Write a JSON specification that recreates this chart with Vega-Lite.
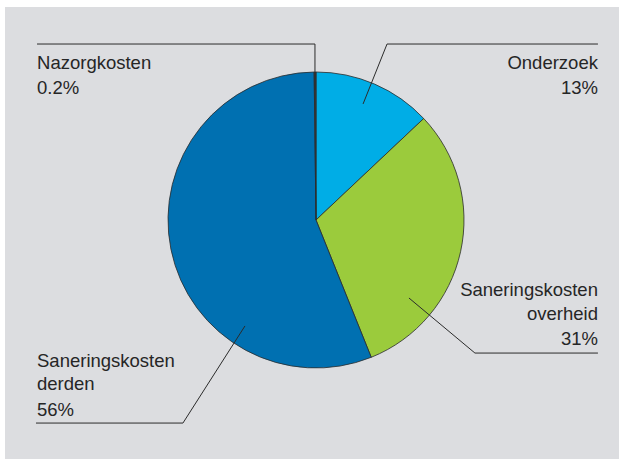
{
  "$schema": "https://vega.github.io/schema/vega-lite/v6.json",
  "width": 614,
  "height": 452,
  "autosize": "none",
  "padding": {"left": 5, "top": 7, "right": 1, "bottom": 0},
  "background": "#ffffff",
  "config": {"view": {"fill": "#dcdde0", "stroke": null}},
  "datasets": {
    "slices": [
      {"category": "Onderzoek", "share": 13, "order": 1},
      {"category": "Saneringskosten overheid", "share": 31, "order": 2},
      {"category": "Saneringskosten derden", "share": 56, "order": 3},
      {"category": "Nazorgkosten", "share": 0.2, "order": 4}
    ],
    "leaders": [
      {"label": "Nazorgkosten", "step": 1, "u": -188.5, "v": 118.9},
      {"label": "Nazorgkosten", "step": 2, "u": -0.7, "v": 118.9},
      {"label": "Nazorgkosten", "step": 3, "u": -0.7, "v": 87.8},
      {"label": "Onderzoek", "step": 1, "u": 190.5, "v": 118.9},
      {"label": "Onderzoek", "step": 2, "u": 48.0, "v": 118.9},
      {"label": "Onderzoek", "step": 3, "u": 31.8, "v": 78.4},
      {"label": "Overheid", "step": 1, "u": 190.5, "v": -89.9},
      {"label": "Overheid", "step": 2, "u": 107.4, "v": -89.9},
      {"label": "Overheid", "step": 3, "u": 62.8, "v": -52.7},
      {"label": "Derden", "step": 1, "u": -189.2, "v": -137.2},
      {"label": "Derden", "step": 2, "u": -89.9, "v": -137.2},
      {"label": "Derden", "step": 3, "u": -48.0, "v": -71.6}
    ],
    "labels": [
      {"text": "Nazorgkosten", "side": "left", "u": -188.5, "v": 102.0},
      {"text": "0.2%", "side": "left", "u": -188.5, "v": 85.1},
      {"text": "Onderzoek", "side": "right", "u": 190.5, "v": 102.0},
      {"text": "13%", "side": "right", "u": 190.5, "v": 85.1},
      {"text": "Saneringskosten", "side": "right", "u": 190.5, "v": -51.4},
      {"text": "overheid", "side": "right", "u": 190.5, "v": -67.6},
      {"text": "31%", "side": "right", "u": 190.5, "v": -84.5},
      {"text": "Saneringskosten", "side": "left", "u": -188.5, "v": -99.3},
      {"text": "derden", "side": "left", "u": -188.5, "v": -114.9},
      {"text": "56%", "side": "left", "u": -188.5, "v": -132.4}
    ]
  },
  "layer": [
    {
      "data": {"name": "slices"},
      "mark": {"type": "arc", "outerRadius": 148, "stroke": "#2b2b2b", "strokeWidth": 0.8},
      "encoding": {
        "theta": {"field": "share", "type": "quantitative", "stack": true},
        "order": {"field": "order", "type": "quantitative"},
        "x": {"datum": 0, "type": "quantitative", "scale": {"domain": [-210.14, 204.73], "nice": false, "zero": false}, "axis": null},
        "y": {"datum": 0, "type": "quantitative", "scale": {"domain": [-161.49, 143.92], "nice": false, "zero": false}, "axis": null},
        "color": {
          "field": "category",
          "type": "nominal",
          "scale": {
            "domain": ["Onderzoek", "Saneringskosten overheid", "Saneringskosten derden", "Nazorgkosten"],
            "range": ["#00ade6", "#9bcb3c", "#0070b1", "#3a3a3a"]
          },
          "legend": null
        }
      }
    },
    {
      "data": {"name": "leaders"},
      "mark": {"type": "line", "color": "#2b2b2b", "strokeWidth": 1},
      "encoding": {
        "x": {"field": "u", "type": "quantitative", "scale": {"domain": [-210.14, 204.73], "nice": false, "zero": false}, "axis": null},
        "y": {"field": "v", "type": "quantitative", "scale": {"domain": [-161.49, 143.92], "nice": false, "zero": false}, "axis": null},
        "detail": {"field": "label"},
        "order": {"field": "step", "type": "quantitative"}
      }
    },
    {
      "data": {"name": "labels"},
      "transform": [{"filter": "datum.side === 'left'"}],
      "mark": {"type": "text", "align": "left", "baseline": "alphabetic", "font": "Liberation Sans", "fontSize": 18.5, "color": "#262626"},
      "encoding": {
        "x": {"field": "u", "type": "quantitative", "scale": {"domain": [-210.14, 204.73], "nice": false, "zero": false}, "axis": null},
        "y": {"field": "v", "type": "quantitative", "scale": {"domain": [-161.49, 143.92], "nice": false, "zero": false}, "axis": null},
        "text": {"field": "text"}
      }
    },
    {
      "data": {"name": "labels"},
      "transform": [{"filter": "datum.side === 'right'"}],
      "mark": {"type": "text", "align": "right", "baseline": "alphabetic", "font": "Liberation Sans", "fontSize": 18.5, "color": "#262626"},
      "encoding": {
        "x": {"field": "u", "type": "quantitative", "scale": {"domain": [-210.14, 204.73], "nice": false, "zero": false}, "axis": null},
        "y": {"field": "v", "type": "quantitative", "scale": {"domain": [-161.49, 143.92], "nice": false, "zero": false}, "axis": null},
        "text": {"field": "text"}
      }
    }
  ]
}
